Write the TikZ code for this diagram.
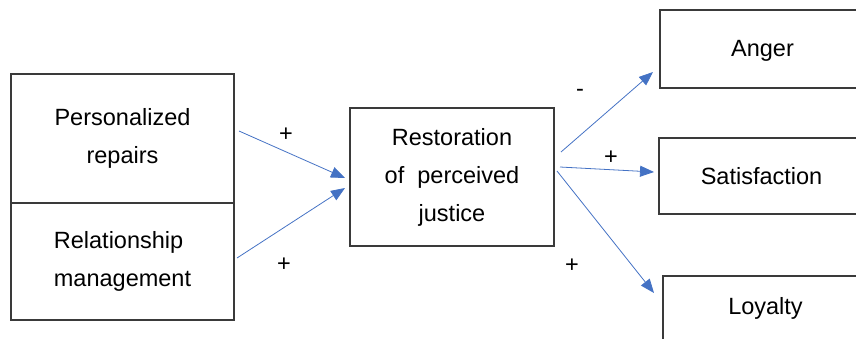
\documentclass[tikz,border=0pt]{standalone}
\usepackage{fontspec}
\setmainfont{Liberation Sans}
\usetikzlibrary{positioning,arrows.meta}
\definecolor{arrowblue}{HTML}{4472C4}
\definecolor{boxgray}{HTML}{3A3A3A}
\begin{document}
\begin{tikzpicture}[x=1pt, y=-1pt,
    every node/.style={font=\fontsize{23.5}{38}\selectfont},
    factor/.style={rectangle, draw=boxgray, line width=1.1pt, align=center, inner sep=0pt, outer sep=0pt},
    conn/.style={arrowblue, line width=0.8pt, -{Triangle[length=14pt, width=11pt]}},
    sign/.style={inner sep=0pt}]
    \clip (0,0) rectangle (856,338);
    \node (pers) [factor, minimum width=223pt, minimum height=129pt] at (122.5,138.5) {Personalized\\repairs};
    \node (rel) [factor, minimum width=223pt, minimum height=117pt, below=0pt of pers, align=left] {Relationship\\management};
    \node (rest) [factor, minimum width=204pt, minimum height=138pt] at (452,177) {Restoration\\of\ \ perceived\\justice};
    \node (anger) [factor, minimum width=205pt, minimum height=78pt, text depth=2pt] at (762.5,49) {Anger};
    \node (sat) [factor, minimum width=205pt, minimum height=76pt] at (761.5,176) {Satisfaction};
    \node (loy) [factor, minimum width=205pt, minimum height=64pt] at (765.5,308) {Loyalty};
    % relations
    \draw[conn] ([xshift=5pt,yshift=7.5pt]pers.east) -- ([xshift=-5pt,yshift=-1pt]rest.west);
    \draw[conn] ([xshift=3pt,yshift=3.5pt]rel.east) -- ([xshift=-5pt,yshift=-11pt]rest.west);
    \draw[conn] ([xshift=7pt,yshift=25pt]rest.east) -- ([xshift=-7pt,yshift=-23pt]anger.west);
    \draw[conn] ([xshift=6pt,yshift=10pt]rest.east) -- ([xshift=-5pt,yshift=4pt]sat.west);
    \draw[conn] ([xshift=3pt,yshift=6pt]rest.east) -- ([xshift=-9pt,yshift=15pt]loy.west);
    \node (s1) [sign] at (286,135) {+};
    \node (s2) [sign] at (284,265) {+};
    \node (s3) [sign] at (580,93) {-};
    \node (s4) [sign] at (611,158) {+};
    \node (s5) [sign] at (572,266) {+};
\end{tikzpicture}
\end{document}
